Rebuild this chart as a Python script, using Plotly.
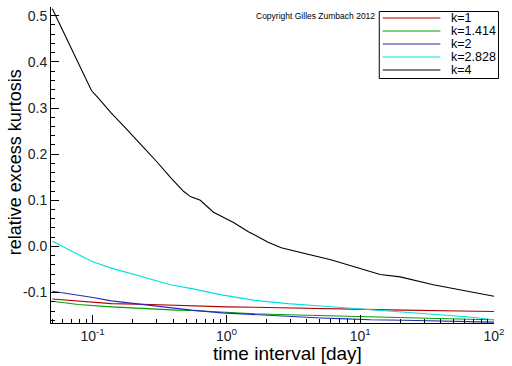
import plotly.graph_objects as go

# ---- data ----
k1_x = [0.05, 0.078, 0.138, 0.272, 0.429, 0.55, 1.0, 1.63, 2.88, 5.08, 8.0, 14.0, 21.1, 56.0, 100]
k1_y = [-0.114, -0.119, -0.124, -0.126, -0.128, -0.130, -0.131, -0.132, -0.133, -0.135, -0.135, -0.136, -0.138, -0.140, -0.141]

k1414_x = [0.05, 0.078, 0.138, 0.243, 0.429, 0.55, 0.923, 1.63, 2.88, 5.08, 8.0, 11.9, 21.1, 37.2, 65.6, 100]
k1414_y = [-0.119, -0.126, -0.131, -0.135, -0.138, -0.139, -0.143, -0.146, -0.148, -0.150, -0.152, -0.153, -0.155, -0.157, -0.158, -0.159]

k2_x = [0.05, 0.062, 0.098, 0.138, 0.194, 0.288, 0.429, 0.55, 0.923, 1.63, 2.88, 5.08, 8.0, 11.9, 21.1, 37.2, 65.6, 100]
k2_y = [-0.097, -0.101, -0.110, -0.118, -0.123, -0.128, -0.133, -0.138, -0.144, -0.148, -0.151, -0.155, -0.157, -0.159, -0.160, -0.162, -0.164, -0.164]

k2828_x = [0.05, 0.062, 0.098, 0.138, 0.194, 0.288, 0.383, 0.538, 0.923, 1.63, 2.88, 5.08, 8.0, 11.9, 21.1, 37.2, 65.6, 100]
k2828_y = [0.011, -0.003, -0.032, -0.047, -0.059, -0.072, -0.083, -0.091, -0.105, -0.117, -0.124, -0.129, -0.133, -0.137, -0.142, -0.148, -0.153, -0.159]

k4_x = [0.05, 0.07, 0.098, 0.11, 0.138, 0.173, 0.205, 0.243, 0.303, 0.383, 0.48, 0.538, 0.638, 0.80,
        1.13, 1.46, 2.05, 2.57, 6.03, 14.1, 19.9, 35.2, 55.4, 100]
k4_y = [0.515, 0.426, 0.338, 0.322, 0.289, 0.259, 0.237, 0.213, 0.183, 0.149, 0.119, 0.108, 0.100, 0.074,
        0.052, 0.032, 0.009, -0.003, -0.029, -0.061, -0.066, -0.083, -0.094, -0.108]

series_names = ["k=1", "k=1.414", "k=2", "k=2.828", "k=4"]
series_colors = ["#b00000", "#00a000", "#2828b8", "#00e0e0", "#000000"]

x_tickvals = [0.1, 1, 10, 100]
x_ticktext = ["10<sup>-1</sup>", "10<sup>0</sup>", "10<sup>1</sup>", "10<sup>2</sup>"]
y_tickvals = [-0.1, 0.0, 0.1, 0.2, 0.3, 0.4, 0.5]
y_ticktext = ["-0.1", "0.0", "0.1", "0.2", "0.3", "0.4", "0.5"]

# ---- figure: full window; page margin removed by a small post-script ----
W, H = 512, 366
ML, MR, MT, MB = 51, 15, 7, 43
PW, PH = W - ML - MR, H - MT - MB


def px(xp):
    return (xp - ML) / PW


def py(yp):
    return (H - MB - yp) / PH


FONT = "Liberation Sans, Arial, sans-serif"

fig = go.Figure()
xs = [k1_x, k1414_x, k2_x, k2828_x, k4_x]
ys = [k1_y, k1414_y, k2_y, k2828_y, k4_y]
for name, color, x, y in zip(series_names, series_colors, xs, ys):
    fig.add_trace(go.Scatter(x=x, y=y, mode="lines", name=name,
                             line=dict(color=color, width=1.1), showlegend=False))

minor_x = []
for dec in [0.01, 0.1, 1, 10]:
    for m in range(2, 10):
        v = m * dec
        if 0.049 <= v <= 100:
            minor_x.append(v)

fig.update_layout(
    width=W, height=H,
    margin=dict(l=ML, r=MR, t=MT, b=MB, pad=0),
    paper_bgcolor="white", plot_bgcolor="white",
    font=dict(family=FONT, color="#111"),
    xaxis=dict(type="log", range=[-1.311, 2.0], showgrid=False, zeroline=False,
               showline=True, linecolor="black", linewidth=1,
               ticks="inside", ticklen=8, tickcolor="black",
               tickvals=x_tickvals, ticktext=x_ticktext, ticklabeloverflow="allow",
               tickfont=dict(size=14, family=FONT, color="#222"),
               minor=dict(tickvals=minor_x, ticks="inside", ticklen=4, tickcolor="black")),
    yaxis=dict(range=[-0.166, 0.519], showgrid=False, zeroline=False,
               showline=True, linecolor="black", linewidth=1,
               ticks="inside", ticklen=8, tickcolor="black",
               tickvals=y_tickvals, ticktext=y_ticktext, ticklabeloverflow="allow",
               tickfont=dict(size=14, family=FONT, color="#222"),
               minor=dict(dtick=0.02, tick0=0, ticks="inside", ticklen=4, tickcolor="black")),
)

# axis titles
fig.add_annotation(text="time interval [day]", xref="paper", yref="paper",
                   x=px(289), y=py(353), xanchor="center", yanchor="middle", showarrow=False,
                   font=dict(size=19, family=FONT, color="black"))
fig.add_annotation(text="relative excess kurtosis", xref="paper", yref="paper",
                   x=px(15), y=py(162), xanchor="center", yanchor="middle",
                   textangle=-90, showarrow=False,
                   font=dict(size=18, family=FONT, color="black"))

# copyright
fig.add_annotation(text="Copyright Gilles Zumbach 2012", xref="paper", yref="paper",
                   x=px(255), y=py(16), xanchor="left", yanchor="middle", showarrow=False,
                   font=dict(size=8.5, family=FONT, color="black"))

# legend box (drawn)
fig.add_shape(type="rect", xref="paper", yref="paper",
              x0=px(381.5), x1=px(501.5), y0=py(11.5), y1=py(78.5),
              line=dict(color="black", width=1), fillcolor="white", layer="above")
row_y = [18, 31, 44, 57, 70]
for name, color, ry in zip(series_names, series_colors, row_y):
    fig.add_shape(type="line", xref="paper", yref="paper",
                  x0=px(385), x1=px(443), y0=py(ry), y1=py(ry),
                  line=dict(color=color, width=1.2), layer="above")
    fig.add_annotation(text=name, xref="paper", yref="paper",
                       x=px(452), y=py(ry), xanchor="left", yanchor="middle", showarrow=False,
                       font=dict(size=12.5, family=FONT, color="black"))

fig.write_html("out.html",
               config={"displayModeBar": False},
               post_script="document.body.style.margin='0';document.body.style.overflow='hidden';")
